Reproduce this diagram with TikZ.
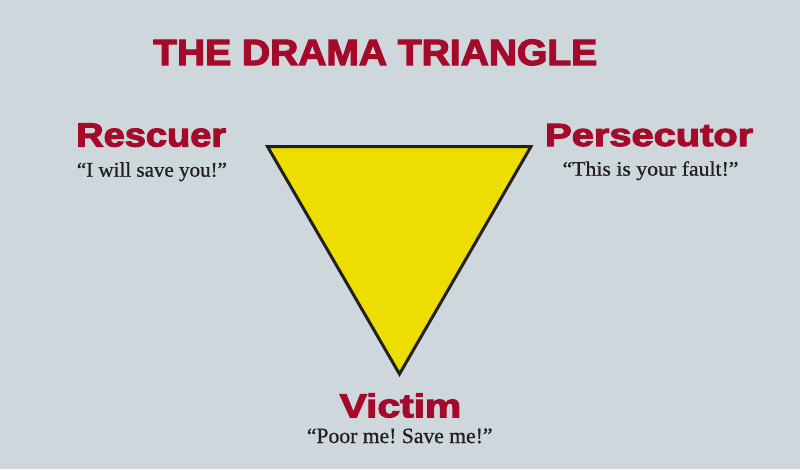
\documentclass[tikz,border=0pt]{standalone}
\usepackage{fontspec}
\usepackage{graphicx}
\frenchspacing
\newfontfamily\heavyfont{Liberation Sans Bold}[FakeBold=3.2]
\newfontfamily\quotefont{Liberation Serif}[FakeBold=0.8]
\definecolor{bgcol}{HTML}{CED7DC}
\definecolor{dramared}{HTML}{A50A2A}
\definecolor{triyellow}{HTML}{EDDD00}
\definecolor{inkcol}{HTML}{231F20}
\tikzset{
  heading/.style={anchor=base west, inner sep=0pt, text=dramared, font=\heavyfont\fontsize{32}{36}\selectfont},
  quotetxt/.style={anchor=base west, inner sep=0pt, text=inkcol, font=\quotefont\frenchspacing\fontsize{20}{24}\selectfont},
  tri/.style={fill=triyellow, draw=inkcol, line width=3pt, line join=miter}
}
\begin{document}
\begin{tikzpicture}[x=1pt,y=-1pt]
\fill[bgcol] (0,0) rectangle (800,469);
\useasboundingbox (0,0) rectangle (800,469);
% triangle
\coordinate (tl) at (267.5,146.5);
\coordinate (tr) at (531,146.5);
\coordinate (bt) at (399.5,374);
\draw[tri] (tl) -- (tr) -- (bt) -- cycle;
% title
\node[heading] (title) at (153,65) {\resizebox{444pt}{25.5pt}{THE DRAMA TRIANGLE}};
% roles
\node[heading] (rescuer) at (76,146.5) {\resizebox{150pt}{23pt}{Rescuer}};
\node[heading] (persecutor) at (545,146) {\resizebox{208pt}{22pt}{Persecutor}};
\node[heading] (victim) at (339.5,417.3) {\resizebox{121.5pt}{24pt}{Victim}};
% quotes
\node[quotetxt] (qres) at (76.7,176.7) {\resizebox{150pt}{14.5pt}{“I will save you!”}};
\node[quotetxt] (qper) at (562.3,175.7) {\resizebox{176pt}{14.5pt}{“This is your fault!”}};
\node[quotetxt] (qvic) at (306.7,443) {\resizebox{185.6pt}{14.5pt}{“Poor me! Save me!”}};
\end{tikzpicture}
\end{document}
